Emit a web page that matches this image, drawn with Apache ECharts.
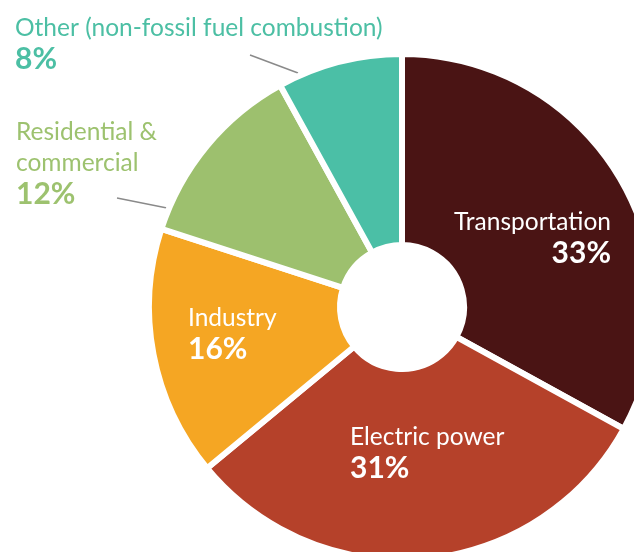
<!DOCTYPE html>
<html>
<head>
<meta charset="utf-8">
<script src="https://cdn.jsdelivr.net/npm/echarts@6/dist/echarts.min.js"></script>
<style>
  html, body { margin: 0; padding: 0; background: #ffffff; }
  #chart { width: 634px; height: 552px; }
</style>
</head>
<body>
<div id="chart"></div>
<script>
// U.S. greenhouse gas emissions by sector (share of total)
const sectors = ['Transportation', 'Electric power', 'Industry', 'Residential &\ncommercial', 'Other (non-fossil fuel combustion)'];
const shares = [33, 31, 16, 12, 8];

const sliceColors = ['#4a1414', '#b5412a', '#f5a623', '#9dc06e', '#4bbfa6'];
const outerTextColors = { 3: '#9dc26f', 4: '#4cbfa4' };

// Where each label block sits, and which slices get an outside label with a leader line
const labelPlacement = [
  { x: 611, y: 207, align: 'right' },
  { x: 350, y: 422, align: 'left' },
  { x: 188, y: 303, align: 'left' },
  { x: 16,  y: 117, align: 'left', line: [[117, 198], [142, 203], [167, 208]] },
  { x: 15,  y: 13,  align: 'left', line: [[250, 55], [274, 64], [298, 73]] }
];

const FONT = 'Lato, "Open Sans", sans-serif';

function richFor(color) {
  return {
    n: { color: color, fontFamily: FONT, fontSize: 24.5, lineHeight: 31 },
    p: { color: color, fontFamily: FONT, fontSize: 30, fontWeight: 'bold', lineHeight: 31 }
  };
}

const data = sectors.map((name, i) => {
  const outside = !!labelPlacement[i].line;
  const color = outside ? outerTextColors[i] : '#ffffff';
  return {
    name: name,
    value: shares[i],
    itemStyle: { color: sliceColors[i] },
    label: {
      show: true,
      position: outside ? 'outside' : 'inside',
      formatter: p => p.name.split('\n').map(s => '{n|' + s + '}').join('\n') + '\n{p|' + p.value + '%}',
      rich: richFor(color)
    },
    labelLine: {
      show: outside,
      lineStyle: { color: '#8a8a8a', width: 1.5 }
    }
  };
});

const chart = echarts.init(document.getElementById('chart'), null, { renderer: 'canvas' });
chart.setOption({
  animation: false,
  backgroundColor: '#ffffff',
  series: [{
    type: 'pie',
    center: [402, 307],
    radius: [62, 253],
    startAngle: 90,
    clockwise: true,
    avoidLabelOverlap: false,
    itemStyle: { borderColor: '#ffffff', borderWidth: 6 },
    emphasis: { disabled: true },
    data: data,
    labelLayout: function (params) {
      const pl = labelPlacement[params.dataIndex];
      const out = { x: pl.x, y: pl.y, align: pl.align, verticalAlign: 'top' };
      if (pl.line) out.labelLinePoints = pl.line;
      return out;
    }
  }]
});
</script>
</body>
</html>
